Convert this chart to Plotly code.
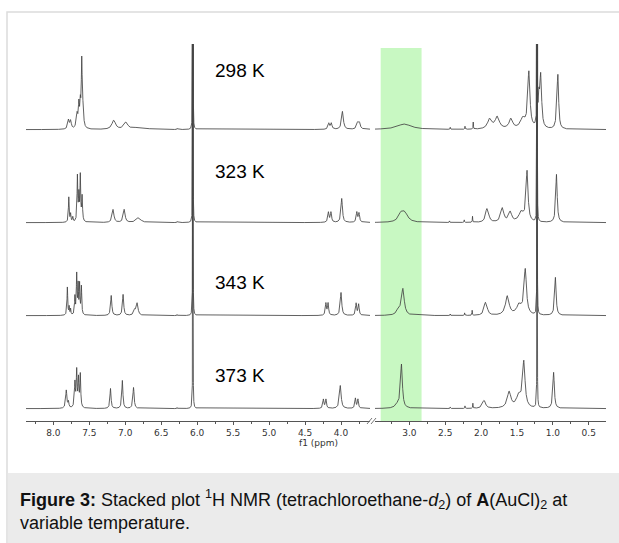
import numpy as np
import plotly.graph_objects as go

# ---------------- data (peak lists) ----------------
temps = ["373 K", "343 K", "323 K", "298 K"]   # bottom -> top

# each spectrum: peak positions (ppm), heights (a.u., stack spacing = 93), half widths (ppm)
ppm_373 = [7.82, 7.79, 7.70, 7.675, 7.65, 7.625, 7.205, 7.04, 6.885, 6.28, 6.06,
           4.245, 4.21, 4.01, 3.80, 3.765, 3.16, 3.11, 2.43, 2.225, 2.115,
           1.96, 1.61, 1.475, 1.405, 1.22, 0.99]
int_373 = [18, 6, 25, 36, 28, 33, 20, 28, 21, 1, 600,
           9, 9, 23, 10, 9, 4, 43, 1.5, 2.5, 5,
           8, 16, 12, 45, 600, 36]
hw_373 = [0.010, 0.008, 0.008, 0.007, 0.007, 0.007, 0.009, 0.009, 0.010, 0.003, 0.0015,
          0.009, 0.009, 0.014, 0.009, 0.009, 0.04, 0.015, 0.003, 0.003, 0.003,
          0.025, 0.03, 0.04, 0.02, 0.0015, 0.012]

ppm_343 = [7.805, 7.78, 7.76, 7.70, 7.675, 7.655, 7.635, 7.61, 7.195, 7.03, 6.87, 6.835, 6.28, 6.06,
           4.21, 4.18, 4.00, 3.79, 3.755, 3.15, 3.09, 2.43, 2.23, 2.125,
           1.945, 1.925, 1.635, 1.47, 1.385, 1.22, 0.965]
int_343 = [28, 8, 6, 18, 40, 28, 30, 28, 20, 21, 5, 12, 1, 600,
           12, 12, 23, 12, 11, 6, 26, 1.5, 2.5, 5,
           9, 7, 19, 10, 45, 600, 38]
hw_343 = [0.006, 0.005, 0.005, 0.006, 0.006, 0.005, 0.006, 0.006, 0.010, 0.010, 0.015, 0.015, 0.003, 0.0015,
          0.009, 0.009, 0.012, 0.009, 0.009, 0.03, 0.022, 0.003, 0.003, 0.003,
          0.02, 0.02, 0.03, 0.04, 0.02, 0.0015, 0.012]

ppm_323 = [7.785, 7.76, 7.73, 7.665, 7.645, 7.625, 7.60, 7.17, 7.015, 6.815, 6.28, 6.06,
           4.175, 4.14, 3.99, 3.78, 3.75, 3.12, 3.065, 2.44, 2.235, 2.12,
           1.925, 1.905, 1.705, 1.595, 1.44, 1.36, 1.22, 0.95]
int_323 = [25, 8, 5, 45, 25, 45, 25, 13, 13, 5, 1, 600,
           10, 10, 24, 10, 9, 7, 9, 1.5, 2.5, 6,
           9, 8, 14, 10, 10, 50, 600, 48]
hw_323 = [0.006, 0.006, 0.006, 0.006, 0.006, 0.006, 0.007, 0.015, 0.015, 0.035, 0.003, 0.0015,
          0.010, 0.010, 0.012, 0.010, 0.010, 0.04, 0.05, 0.003, 0.003, 0.003,
          0.02, 0.02, 0.025, 0.025, 0.04, 0.016, 0.0015, 0.012]

ppm_298 = [7.79, 7.76, 7.67, 7.645, 7.625, 7.605, 7.59, 7.16, 6.99, 6.80, 6.28, 6.06,
           4.17, 4.135, 3.98, 3.77, 3.745, 3.07, 2.43, 2.225, 2.11,
           1.88, 1.775, 1.585, 1.42, 1.335, 1.22, 1.195, 1.17, 0.945, 0.93]
int_298 = [9, 8, 14, 22, 22, 62, 18, 9, 7, 2.2, 1, 600,
           6, 6, 18, 6, 6, 5.5, 2, 3, 7,
           10, 12, 10, 10, 56, 600, 25, 52, 15, 50]
hw_298 = [0.012, 0.012, 0.012, 0.008, 0.008, 0.007, 0.012, 0.03, 0.03, 0.1, 0.003, 0.0015,
          0.012, 0.012, 0.015, 0.015, 0.015, 0.12, 0.003, 0.003, 0.003,
          0.035, 0.035, 0.03, 0.04, 0.018, 0.0015, 0.01, 0.015, 0.01, 0.012]

spectra = [(ppm_373, int_373, hw_373), (ppm_343, int_343, hw_343),
           (ppm_323, int_323, hw_323), (ppm_298, int_298, hw_298)]

left_ticks = [8.0, 7.5, 7.0, 6.5, 6.0, 5.5, 5.0, 4.5, 4.0]
right_ticks = [3.0, 2.5, 2.0, 1.5, 1.0, 0.5]

# ---------------- layout geometry ----------------
W, H = 619, 543
PL, PR, PT, PB = 26, 606, 44, 421          # plot area in pixels
STEP = 93.0                                  # vertical stacking offset
YMIN, YMAX = -12.4, 364.6

def xp(px):
    return (px - PL) / (PR - PL)

def yp(py):
    return (PB - py) / (PB - PT)

left_rng = [8.38, 3.597]
right_rng = [3.479, 0.26]
xl = np.arange(left_rng[1], left_rng[0], 0.0005)
xr = np.arange(right_rng[1], right_rng[0], 0.0005)


def spectrum(x, pk, it, hw):
    y = np.zeros_like(x)
    for p, h, w in zip(pk, it, hw):
        y += h * w * w / ((x - p) ** 2 + w * w)
    return y

fig = go.Figure()
line = dict(color="#454545", width=0.85)
for i, (pk, it, hw) in enumerate(spectra):
    off = i * STEP
    fig.add_trace(go.Scatter(x=xl, y=spectrum(xl, pk, it, hw) + off, mode="lines",
                             line=line, xaxis="x", yaxis="y", showlegend=False, hoverinfo="skip"))
    fig.add_trace(go.Scatter(x=xr, y=spectrum(xr, pk, it, hw) + off, mode="lines",
                             line=line, xaxis="x2", yaxis="y", showlegend=False, hoverinfo="skip"))

axis_common = dict(
    showgrid=False, zeroline=False, showline=True, linecolor="#555", linewidth=1,
    ticks="outside", ticklen=3, tickcolor="#555", tickwidth=1,
    tickformat=".1f", tickfont=dict(family="DejaVu Sans", size=9, color="#333"),
    minor=dict(dtick=0.25, tick0=0, ticks="outside", ticklen=2, tickcolor="#555"),
)
fig.update_layout(
    width=W, height=H,
    margin=dict(l=PL, r=W - PR, t=PT, b=H - PB),
    paper_bgcolor="white", plot_bgcolor="rgba(0,0,0,0)",
    xaxis=dict(domain=[0, xp(370)], range=left_rng, tickvals=left_ticks, anchor="y", **axis_common),
    xaxis2=dict(domain=[xp(375), 1], range=right_rng, tickvals=right_ticks, anchor="y", **axis_common),
    yaxis=dict(range=[YMIN, YMAX], visible=False, fixedrange=True),
)

shapes = [
    # outer frame
    dict(type="rect", xref="paper", yref="paper", x0=xp(7), x1=xp(640), y0=yp(560), y1=yp(12),
         line=dict(color="#dcdcdc", width=1.5), fillcolor="rgba(0,0,0,0)", layer="below"),
    # caption background
    dict(type="rect", xref="paper", yref="paper", x0=xp(7.8), x1=xp(640), y0=yp(560), y1=yp(473),
         line=dict(width=0), fillcolor="#ebebeb", layer="below"),
    # highlighted region
    dict(type="rect", xref="x2", yref="paper", x0=3.40, x1=2.83, y0=0, y1=yp(48),
         line=dict(width=0), fillcolor="#c8f8c2", layer="below"),
    # axis break marks
    dict(type="line", xref="paper", yref="paper", x0=xp(367), x1=xp(372), y0=yp(424), y1=yp(418),
         line=dict(color="#777", width=1)),
    dict(type="line", xref="paper", yref="paper", x0=xp(371), x1=xp(376), y0=yp(424), y1=yp(418),
         line=dict(color="#777", width=1)),
]
fig.update_layout(shapes=shapes)

ann = []
label_y = [375, 282, 171, 71]
for t, py in zip(temps, label_y):
    ann.append(dict(text=t, xref="paper", yref="paper", x=xp(213), y=yp(py), xanchor="left",
                    yanchor="middle", showarrow=False,
                    font=dict(family="Liberation Sans", size=19, color="black")))
ann.append(dict(text="f1 (ppm)", xref="paper", yref="paper", x=xp(318), y=yp(443),
                xanchor="center", yanchor="middle", showarrow=False,
                font=dict(family="DejaVu Sans", size=9, color="#333")))
ann.append(dict(text="<b>Figure 3:</b> Stacked plot <sup>1</sup>H NMR (tetrachloroethane-<i>d</i><sub>2</sub>) of "
                     "<b>A</b>(AuCl)<sub>2</sub> at<br>variable temperature.",
                xref="paper", yref="paper", x=xp(18), y=yp(510), xanchor="left", yanchor="middle",
                align="left", showarrow=False,
                font=dict(family="Liberation Sans", size=18, color="#111")))
fig.update_layout(annotations=ann)

fig.write_html("out.html", config={"displayModeBar": False},
               post_script="document.body.style.margin='0';document.body.style.overflow='hidden';")
